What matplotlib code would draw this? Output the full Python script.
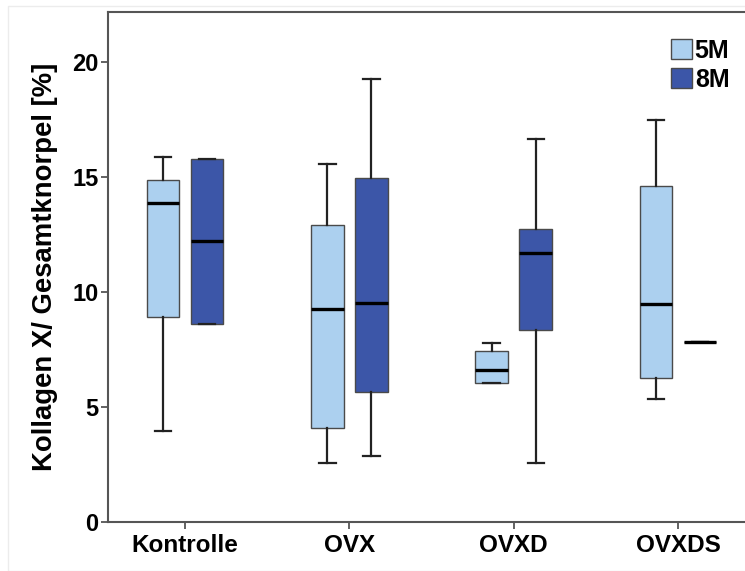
import matplotlib
matplotlib.use("Agg")
import matplotlib.pyplot as plt
from matplotlib.patches import Patch, Rectangle

plt.rcParams['font.family'] = ['Liberation Sans', 'DejaVu Sans']
plt.rcParams['font.weight'] = 'bold'

# Daten
gruppen = ['Kontrolle', 'OVX', 'OVXD', 'OVXDS']
serien = ['5M', '8M']
farben = ['#acd0ef', '#3c56a8']

# je Gruppe: [5M, 8M]
wmin = [[3.97, 8.60], [2.55, 2.88], [6.06, 2.58], [5.35, 7.81]]
q1 = [[8.93, 8.60], [4.07, 5.64], [6.06, 8.35], [6.25, 7.81]]
med = [[13.88, 12.22], [9.25, 9.54], [6.61, 11.68], [9.46, 7.81]]
q3 = [[14.87, 15.78], [12.90, 14.97], [7.45, 12.74], [14.62, 7.81]]
wmax = [[15.88, 15.78], [15.55, 19.25], [7.80, 16.64], [17.48, 7.81]]

fig = plt.figure(figsize=(7.45, 5.71), dpi=100)
ax = fig.add_axes([108 / 745, 49 / 571, 1 - 108 / 745, 510 / 571])

versatz = [-0.134, 0.134]
for s in range(2):
    stats = []
    for g in range(len(gruppen)):
        stats.append(dict(whislo=wmin[g][s], q1=q1[g][s], med=med[g][s],
                          q3=q3[g][s], whishi=wmax[g][s], fliers=[]))
    pos = [g + versatz[s] for g in range(len(gruppen))]
    ax.bxp(stats, positions=pos, widths=0.198, patch_artist=True,
           showfliers=False, capwidths=0.1,
           boxprops=dict(facecolor=farben[s], edgecolor='#4a4a4a', linewidth=1.0),
           medianprops=dict(color='black', linewidth=2.4),
           whiskerprops=dict(color='#222222', linewidth=1.6),
           capprops=dict(color='#222222', linewidth=1.6))

ax.set_xlim(-0.468, 3.407)
ax.set_ylim(0, 22.17)
ax.set_xticks(range(len(gruppen)))
ax.set_xticklabels(gruppen, fontsize=17.5, fontweight='bold')
ax.set_yticks([0, 5, 10, 15, 20])
ax.set_yticklabels(['0', '5', '10', '15', '20'], fontsize=17, fontweight='bold')
ax.tick_params(direction='out', length=5, width=1.3, color='#555555', pad=2)
ax.tick_params(axis='x', pad=4)
ax.spines['right'].set_visible(False)
for sp in ['left', 'bottom', 'top']:
    ax.spines[sp].set_color('#555555')
    ax.spines[sp].set_linewidth(1.5)
ax.set_ylabel('Kollagen X/ Gesamtknorpel [%]', fontsize=19.8, fontweight='bold', labelpad=10)

handles = [Patch(facecolor=farben[i], edgecolor='#4a4a4a', label=serien[i]) for i in range(2)]
ax.legend(handles=handles, loc='upper right', bbox_to_anchor=(1.003, 0.982), frameon=False,
          handlelength=0.84, handleheight=0.84, handletextpad=0.12,
          labelspacing=0.2, borderaxespad=0.3, prop=dict(weight='bold', size=18))

fig.patches.append(Rectangle((8 / 745, 0), 1, 1 - 6 / 571, transform=fig.transFigure,
                             fill=False, edgecolor='#ececec', linewidth=1))

fig.savefig('out.png', dpi=100)
